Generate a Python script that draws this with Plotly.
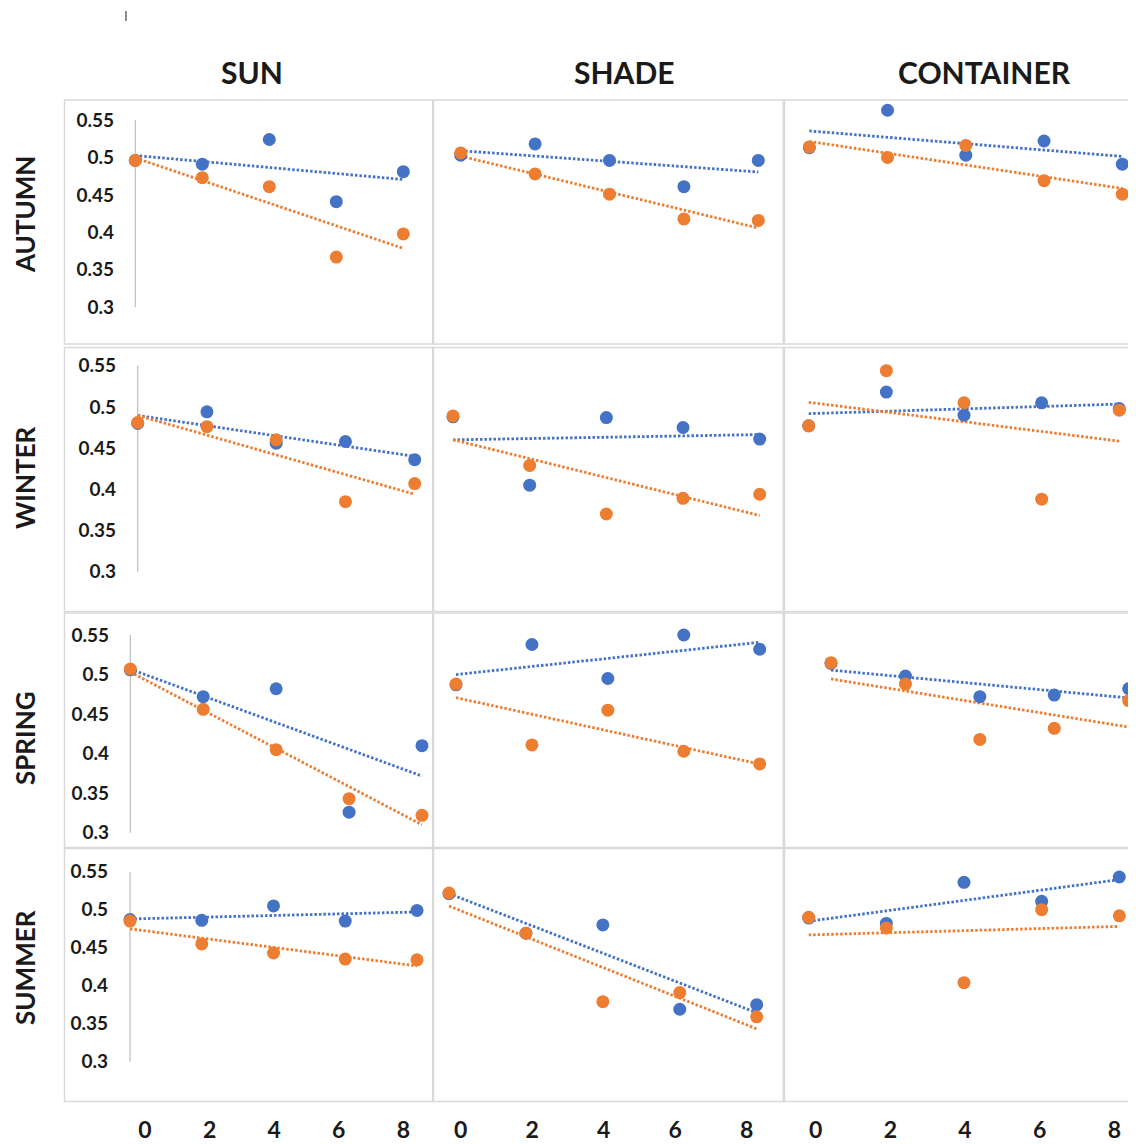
import numpy as np
import plotly.graph_objects as go

OFF = 8  # page body margin of the browser
W, H = 1136 - OFF, 1144 - OFF

# ---------------- data ----------------
SEASONS = ["AUTUMN", "WINTER", "SPRING", "SUMMER"]
SITES = ["SUN", "SHADE", "CONTAINER"]
WEEKS = [0, 2, 4, 6, 8]
X_TICK_LABELS = ["0", "2", "4", "6", "8"]
Y_TICKS = [0.3, 0.35, 0.4, 0.45, 0.5, 0.55]
Y_TICK_LABELS = ["0.3", "0.35", "0.4", "0.45", "0.5", "0.55"]
Y_AXIS_MIN, Y_AXIS_MAX = 0.3, 0.55

AUTUMN_SUN_BLUE = [0.496, 0.491, 0.524, 0.441, 0.481]
AUTUMN_SUN_ORANGE = [0.496, 0.473, 0.461, 0.367, 0.398]
AUTUMN_SHADE_BLUE = [0.503, 0.518, 0.496, 0.461, 0.496]
AUTUMN_SHADE_ORANGE = [0.506, 0.478, 0.451, 0.418, 0.416]
AUTUMN_CONTAINER_BLUE = [0.513, 0.563, 0.503, 0.522, 0.491]
AUTUMN_CONTAINER_ORANGE = [0.514, 0.500, 0.516, 0.469, 0.451]

WINTER_SUN_BLUE = [0.480, 0.494, 0.456, 0.458, 0.436]
WINTER_SUN_ORANGE = [0.481, 0.476, 0.460, 0.385, 0.407]
WINTER_SHADE_BLUE = [0.488, 0.405, 0.487, 0.475, 0.461]
WINTER_SHADE_ORANGE = [0.489, 0.429, 0.370, 0.389, 0.394]
WINTER_CONTAINER_BLUE = [0.477, 0.518, 0.490, 0.505, 0.498]
WINTER_CONTAINER_ORANGE = [0.477, 0.544, 0.505, 0.388, 0.496]

SPRING_SUN_BLUE = [0.506, 0.472, 0.482, 0.326, 0.410]
SPRING_SUN_ORANGE = [0.507, 0.456, 0.405, 0.343, 0.322]
SPRING_SHADE_BLUE = [0.487, 0.538, 0.495, 0.550, 0.532]
SPRING_SHADE_ORANGE = [0.488, 0.411, 0.455, 0.403, 0.387]
SPRING_CONTAINER_BLUE = [0.514, 0.498, 0.472, 0.474, 0.482]
SPRING_CONTAINER_ORANGE = [0.515, 0.488, 0.418, 0.432, 0.467]

SUMMER_SUN_BLUE = [0.487, 0.486, 0.505, 0.485, 0.499]
SUMMER_SUN_ORANGE = [0.485, 0.455, 0.443, 0.435, 0.434]
SUMMER_SHADE_BLUE = [0.521, 0.469, 0.480, 0.369, 0.375]
SUMMER_SHADE_ORANGE = [0.522, 0.469, 0.379, 0.391, 0.359]
SUMMER_CONTAINER_BLUE = [0.489, 0.482, 0.536, 0.511, 0.543]
SUMMER_CONTAINER_ORANGE = [0.490, 0.476, 0.404, 0.500, 0.492]

DATA = [
    [(AUTUMN_SUN_BLUE, AUTUMN_SUN_ORANGE), (AUTUMN_SHADE_BLUE, AUTUMN_SHADE_ORANGE),
     (AUTUMN_CONTAINER_BLUE, AUTUMN_CONTAINER_ORANGE)],
    [(WINTER_SUN_BLUE, WINTER_SUN_ORANGE), (WINTER_SHADE_BLUE, WINTER_SHADE_ORANGE),
     (WINTER_CONTAINER_BLUE, WINTER_CONTAINER_ORANGE)],
    [(SPRING_SUN_BLUE, SPRING_SUN_ORANGE), (SPRING_SHADE_BLUE, SPRING_SHADE_ORANGE),
     (SPRING_CONTAINER_BLUE, SPRING_CONTAINER_ORANGE)],
    [(SUMMER_SUN_BLUE, SUMMER_SUN_ORANGE), (SUMMER_SHADE_BLUE, SUMMER_SHADE_ORANGE),
     (SUMMER_CONTAINER_BLUE, SUMMER_CONTAINER_ORANGE)],
]

# ---------------- layout geometry (page pixels) ----------------
BLUE = "#4472C4"
ORANGE = "#ED7D31"
BORDER = "#D9D9D9"
TXT = "#1a1a1a"
FONT = "Lato"

ROW_BOX = [(100, 344), (347.5, 611.5), (613, 847.5), (848.5, 1101.5)]
COL_BOX = [(64.5, 432.7), (433.5, 783.3), (784.5, 1135.5)]
ROW_YPIX = [(120, 307.3), (365.7, 571.7), (635, 832.7), (871.7, 1061.7)]  # pixel of 0.55 / 0.3
PANEL_XPIX = [
    [(135.3, 403.3), (460.7, 758.3), (809.3, 1122.3)],
    [(137.7, 414.7), (453.0, 759.7), (808.7, 1119.3)],
    [(130.3, 422.0), (456.0, 759.7), (831.0, 1128.7)],
    [(130.0, 417.0), (449.0, 756.7), (808.7, 1119.3)],
]
YLABEL_RIGHT = [112, 114, 107, 106]
XLABEL_PIX = [(145, 403.3), (460.7, 746.7), (815.7, 1114.3)]


def fx(p):
    return (p - OFF) / W


def fy(p):
    return 1 - (p - OFF) / H


fig = go.Figure()
layout = {}
shapes = []

for r in range(4):
    top, bot = ROW_BOX[r]
    p55, p30 = ROW_YPIX[r]
    k = (Y_AXIS_MAX - Y_AXIS_MIN) / (p30 - p55)
    y_top = Y_AXIS_MAX + (p55 - top) * k
    y_bot = Y_AXIS_MAX - (bot - p55) * k
    for c in range(3):
        n = r * 3 + c + 1
        sfx = "" if n == 1 else str(n)
        left, right = COL_BOX[c]
        p0, p8 = PANEL_XPIX[r][c]
        s = (p8 - p0) / 8.0
        x_min = (left - p0) / s
        x_max = 8 + (right - p8) / s

        layout["xaxis" + sfx] = dict(
            domain=[max(0, fx(left)), min(1, fx(right))], range=[x_min, x_max], anchor="y" + sfx,
            showgrid=False, zeroline=False, showline=False, showticklabels=False,
            ticks="", fixedrange=True,
        )
        yax = dict(
            domain=[fy(bot), fy(top)], range=[y_bot, y_top],
            showgrid=False, zeroline=False, showline=False, ticks="", fixedrange=True,
        )
        if c == 0:
            yax.update(
                anchor="free", position=fx(YLABEL_RIGHT[r] + 2),
                showticklabels=True, tickvals=Y_TICKS, ticktext=Y_TICK_LABELS,
                tickfont=dict(family=FONT, size=19, color=TXT, weight="bold"),
            )
            # vertical axis line at x = 0
            shapes.append(dict(type="line", xref="x" + sfx, yref="y" + sfx,
                               x0=0, x1=0, y0=Y_AXIS_MIN, y1=Y_AXIS_MAX,
                               line=dict(color="#BFBFBF", width=1.2), layer="below"))
        else:
            yax.update(anchor="x" + sfx, showticklabels=False)
        layout["yaxis" + sfx] = yax

        # panel border
        shapes.append(dict(type="rect", xref="paper", yref="paper",
                           x0=fx(left), x1=min(1, fx(right)), y0=fy(bot), y1=fy(top),
                           line=dict(color=BORDER, width=1.5), layer="below"))

        blue, orange = DATA[r][c]
        xa, ya = "x" + sfx, "y" + sfx
        for vals, col in ((blue, BLUE), (orange, ORANGE)):
            m, b = np.polyfit(WEEKS, vals, 1)
            xs = [WEEKS[0], WEEKS[-1]]
            fig.add_trace(go.Scatter(
                x=xs, y=[b + m * xs[0], b + m * xs[1]], mode="lines",
                line=dict(color=col, width=2.8, dash="2.5px,2px"),
                xaxis=xa, yaxis=ya, showlegend=False, hoverinfo="skip"))
        for vals, col in ((blue, BLUE), (orange, ORANGE)):
            fig.add_trace(go.Scatter(
                x=WEEKS, y=vals, mode="markers",
                marker=dict(color=col, size=13, line=dict(width=0)),
                xaxis=xa, yaxis=ya, showlegend=False, cliponaxis=False))

# x tick label axes for the bottom row (overlaying)
for c in range(3):
    base = 10 + c
    n = 13 + c
    q0, q8 = XLABEL_PIX[c]
    left, right = COL_BOX[c]
    right = min(right, OFF + W)
    s = (q8 - q0) / 8.0
    layout["xaxis%d" % n] = dict(
        overlaying="x%d" % base, anchor="y%d" % base,
        domain=[fx(left), min(1, fx(right))],
        range=[(left - q0) / s, 8 + (right - q8) / s],
        tickvals=WEEKS, ticktext=X_TICK_LABELS, ticks="",
        showgrid=False, zeroline=False, showline=False, fixedrange=True,
        ticklabelstandoff=12,
        tickfont=dict(family=FONT, size=23, color=TXT, weight="bold"),
    )
    fig.add_trace(go.Scatter(x=[None], y=[None], xaxis="x%d" % n, yaxis="y%d" % base,
                             showlegend=False, hoverinfo="skip"))

annotations = []
COL_TITLE_X = [252, 624, 984]
for c, name in enumerate(SITES):
    annotations.append(dict(text=name, x=fx(COL_TITLE_X[c]), y=fy(72), xref="paper", yref="paper",
                            showarrow=False, xanchor="center", yanchor="middle",
                            font=dict(family=FONT, size=30, color=TXT, weight="bold")))
ROW_TITLE_Y = [215, 478, 738, 968]
for r, name in enumerate(SEASONS):
    annotations.append(dict(text=name, x=fx(25), y=fy(ROW_TITLE_Y[r]), xref="paper", yref="paper",
                            showarrow=False, xanchor="center", yanchor="middle", textangle=-90,
                            borderpad=0,
                            font=dict(family=FONT, size=26, color=TXT, weight="bold")))

# small stray tick mark at the top-left
shapes.append(dict(type="line", xref="paper", yref="paper", x0=fx(126), x1=fx(126),
                   y0=fy(11), y1=fy(21), line=dict(color="#404040", width=1.2)))

fig.update_layout(
    width=W, height=H, margin=dict(l=0, r=0, t=0, b=0),
    paper_bgcolor="white", plot_bgcolor="rgba(0,0,0,0)",
    showlegend=False, shapes=shapes, annotations=annotations, **layout,
)

fig.write_html("out.html")
